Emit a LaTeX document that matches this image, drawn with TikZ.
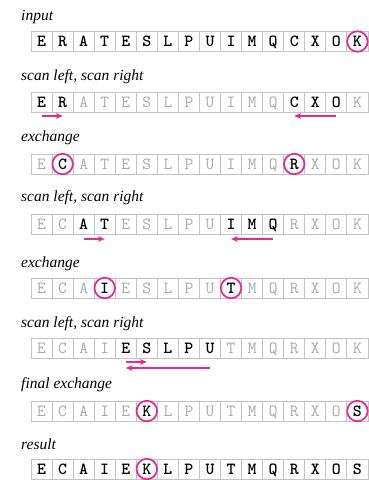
\documentclass[tikz,border=0pt]{standalone}
\usepackage{fontspec}
\newfontfamily\capfont{Liberation Serif}
\usetikzlibrary{arrows.meta}
\definecolor{hot}{RGB}{232,38,140}
\definecolor{cellgray}{RGB}{195,195,195}
\definecolor{lettergray}{RGB}{170,170,170}
\tikzset{
  cellbase/.style={draw=cellgray, line width=0.9pt, minimum width=21.06pt,
    minimum height=20pt, inner sep=0pt, text height=10.4pt, text depth=0pt,
    anchor=center},
  gx/.style={cellbase, text=lettergray, font=\ttfamily\fontsize{17}{17}\selectfont},
  bx/.style={cellbase, text=black, font=\ttfamily\bfseries\fontsize{17}{17}\selectfont},
  ring/.style={circle, draw=hot, line width=1.7pt, fill=white, minimum size=20.5pt,
    inner sep=0pt, text height=10.4pt, text depth=0pt,
    font=\ttfamily\bfseries\fontsize{17}{17}\selectfont},
  caption/.style={anchor=base west, inner sep=0pt, font=\capfont\itshape\fontsize{15.5}{15.5}\selectfont},
  arr/.style={draw=hot, line width=1.6pt, -{Stealth[length=6.5pt,width=5.5pt,inset=1.5pt]}}
}
\newcommand{\cellrow}[3]{%
  \foreach \l/\s [count=\i from 0] in {#3}
    \node[\s] (r#1-\i) at ({31+21.06*(\i+0.5)},#2) {\l};
}
\begin{document}
\begin{tikzpicture}[x=1pt,y=-1pt]
\useasboundingbox (0,0) rectangle (369,480);
% captions
\node[caption] (c1) at (21,20.7) {input};
\node[caption] (c2) at (21,80) {scan left, scan right};
\node[caption] (c3) at (21,141.7) {exchange};
\node[caption] (c4) at (21,201.7) {scan left, scan right};
\node[caption] (c5) at (21,267) {exchange};
\node[caption] (c6) at (21,327) {scan left, scan right};
\node[caption] (c7) at (21,388) {final exchange};
\node[caption] (c8) at (21,449) {result};
% rows
\cellrow{1}{41.5}{E/bx,R/bx,A/bx,T/bx,E/bx,S/bx,L/bx,P/bx,U/bx,I/bx,M/bx,Q/bx,C/bx,X/bx,O/bx,K/bx}
\cellrow{2}{102}{E/bx,R/bx,A/gx,T/gx,E/gx,S/gx,L/gx,P/gx,U/gx,I/gx,M/gx,Q/gx,C/bx,X/bx,O/bx,K/gx}
\cellrow{3}{164}{E/gx,C/bx,A/gx,T/gx,E/gx,S/gx,L/gx,P/gx,U/gx,I/gx,M/gx,Q/gx,R/bx,X/gx,O/gx,K/gx}
\cellrow{4}{224}{E/gx,C/gx,A/bx,T/bx,E/gx,S/gx,L/gx,P/gx,U/gx,I/bx,M/bx,Q/bx,R/gx,X/gx,O/gx,K/gx}
\cellrow{5}{288}{E/gx,C/gx,A/gx,I/bx,E/gx,S/gx,L/gx,P/gx,U/gx,T/bx,M/gx,Q/gx,R/gx,X/gx,O/gx,K/gx}
\cellrow{6}{348.5}{E/gx,C/gx,A/gx,I/gx,E/bx,S/bx,L/bx,P/bx,U/bx,T/gx,M/gx,Q/gx,R/gx,X/gx,O/gx,K/gx}
\cellrow{7}{411}{E/gx,C/gx,A/gx,I/gx,E/gx,K/bx,L/gx,P/gx,U/gx,T/gx,M/gx,Q/gx,R/gx,X/gx,O/gx,S/bx}
\cellrow{8}{469}{E/bx,C/bx,A/bx,I/bx,E/bx,K/bx,L/bx,P/bx,U/bx,T/bx,M/bx,Q/bx,R/bx,X/bx,O/bx,S/bx}
% rings
\node[ring] (k1) at (r1-15) {K};
\node[ring] (k3a) at (r3-1) {C};
\node[ring] (k3b) at (r3-12) {R};
\node[ring] (k5a) at (r5-3) {I};
\node[ring] (k5b) at (r5-9) {T};
\node[ring] (k7a) at (r7-5) {K};
\node[ring] (k7b) at (r7-15) {S};
\node[ring] (k8) at (r8-5) {K};
% arrows
\draw[arr] ([yshift=-14pt]r2-0.center) -- ([yshift=-14pt]r2-1.center);
\draw[arr] ([yshift=-14pt]r2-14.center) -- ([yshift=-14pt]r2-12.center);
\draw[arr] ([yshift=-15pt]r4-2.center) -- ([yshift=-15pt]r4-3.center);
\draw[arr] ([yshift=-15pt]r4-11.center) -- ([yshift=-15pt]r4-9.center);
\draw[arr] ([yshift=-13.5pt]r6-4.center) -- ([yshift=-13.5pt]r6-5.center);
\draw[arr] ([yshift=-19.5pt]r6-8.center) -- ([yshift=-19.5pt]r6-4.center);
\end{tikzpicture}
\end{document}
